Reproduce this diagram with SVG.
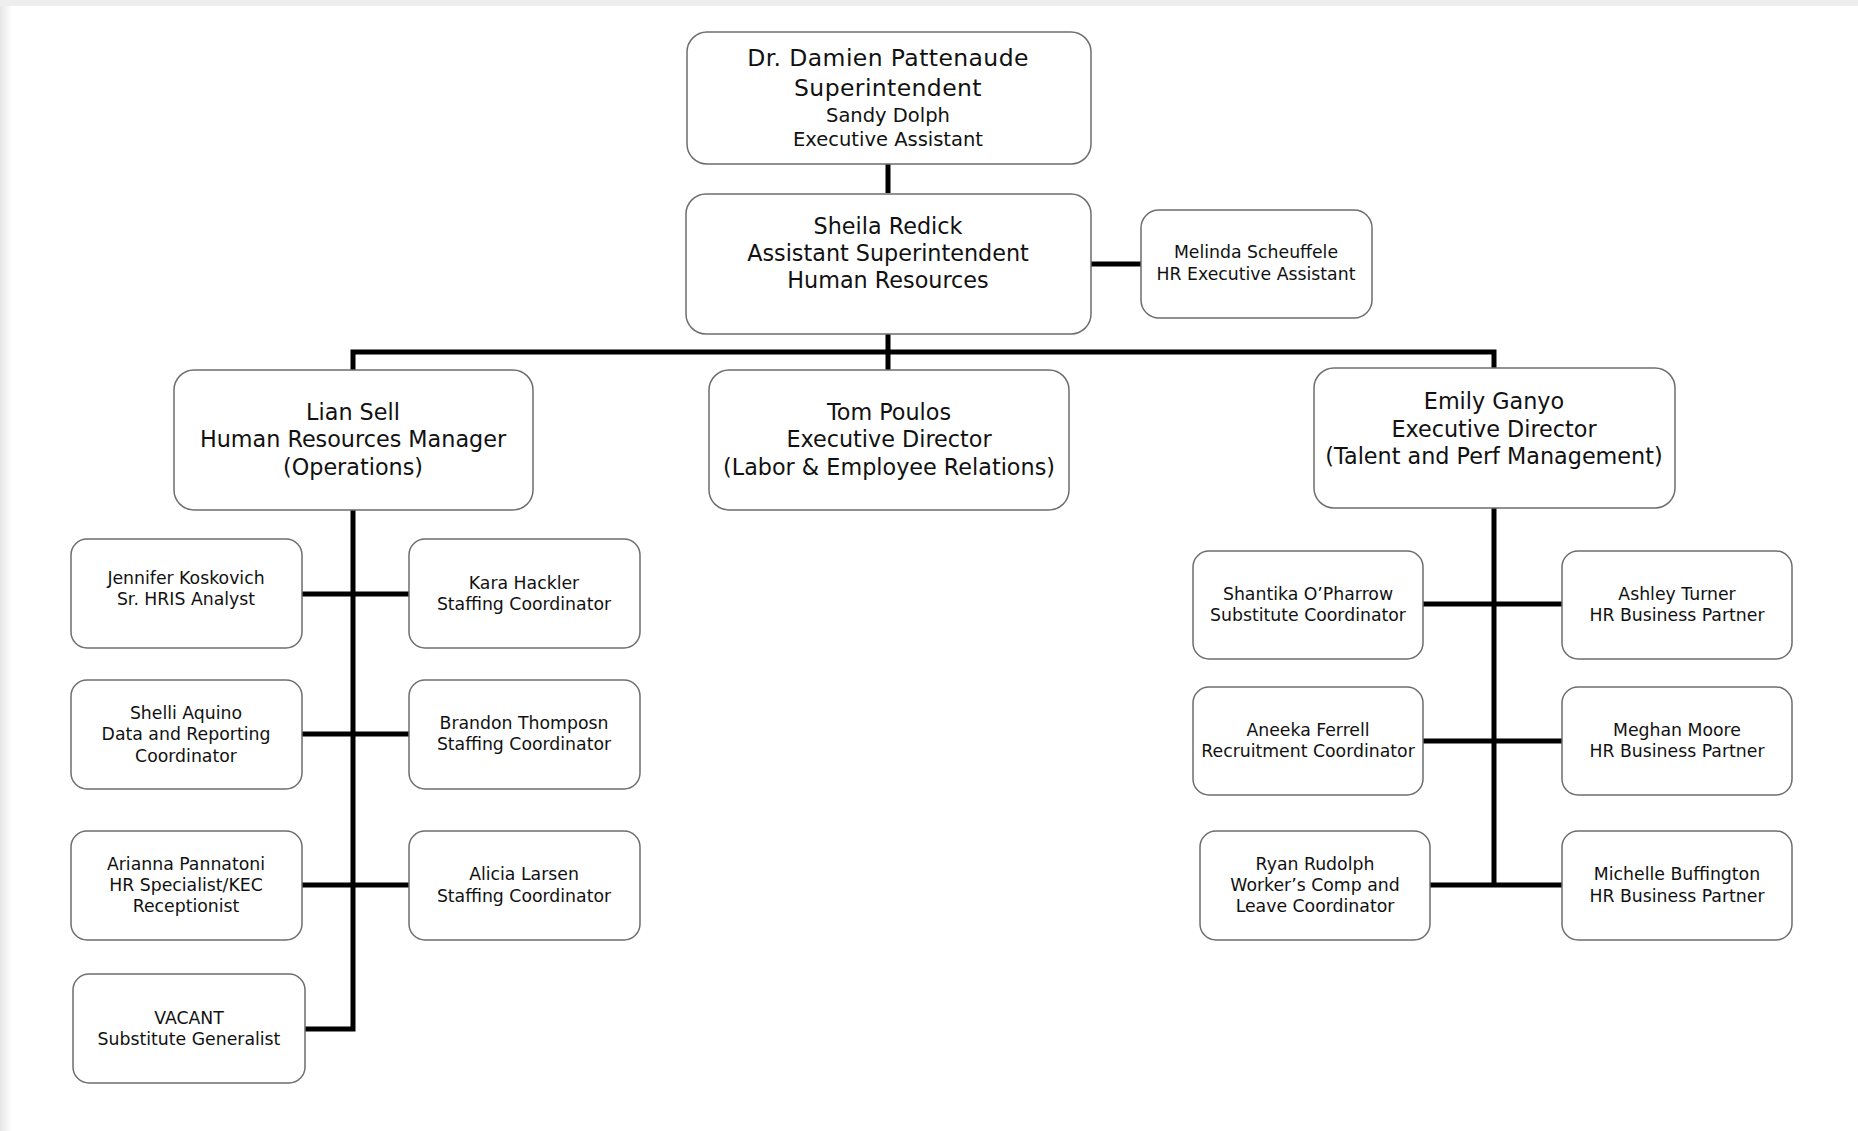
<svg xmlns="http://www.w3.org/2000/svg" width="1858" height="1131" viewBox="0 0 1858 1131">
<defs>
<linearGradient id="lg" x1="0" y1="0" x2="1" y2="0">
<stop offset="0" stop-color="#e6e6e6"/>
<stop offset="1" stop-color="#ffffff"/>
</linearGradient>
<style>
.box{fill:#ffffff;stroke:#6e6e6e;stroke-width:1.5}
.t{font-family:"DejaVu Sans","Verdana",sans-serif;fill:#111111;text-anchor:middle}
.top{font-size:23.5px;letter-spacing:0.4px}
.topsm{font-size:19.5px}
.big{font-size:22.3px}
.sm{font-size:17.3px}
.c{fill:none;stroke:#000000;stroke-width:5;stroke-linejoin:miter;stroke-linecap:butt}
</style>
</defs>
<rect x="0" y="0" width="1858" height="1131" fill="#ffffff"/>
<rect x="0" y="0" width="12" height="1131" fill="url(#lg)"/>
<rect x="0" y="0" width="1858" height="6" fill="#eeeeee"/>
<g id="connectors">
<path class="c" d="M888 164 V193"/>
<path class="c" d="M1091 264 H1141"/>
<path class="c" d="M888 334 V352 M353 370 V352 H1494 V368 M888 352 V370"/>
<path class="c" d="M353 510 V1029 H305"/>
<path class="c" d="M302 594 H409 M302 734 H409 M302 885 H409"/>
<path class="c" d="M1494 508 V885"/>
<path class="c" d="M1423 604 H1562 M1423 741 H1562 M1430 885 H1562"/>
</g>
<g id="superintendent">
<rect class="box" x="687" y="32" width="404" height="132" rx="20"/>
<text class="t top" x="888" y="66">Dr. Damien Pattenaude</text>
<text class="t top" x="888" y="96">Superintendent</text>
<text class="t topsm" x="888" y="122">Sandy Dolph</text>
<text class="t topsm" x="888" y="146">Executive Assistant</text>
</g>
<g id="asst-superintendent">
<rect class="box" x="686" y="194" width="405" height="140" rx="20"/>
<text class="t big" x="888" y="233.5">Sheila Redick</text>
<text class="t big" x="888" y="260.5">Assistant Superintendent</text>
<text class="t big" x="888" y="287.5">Human Resources</text>
</g>
<g id="hr-exec-assistant">
<rect class="box" x="1141" y="210" width="231" height="108" rx="18"/>
<text class="t sm" x="1256" y="258">Melinda Scheuffele</text>
<text class="t sm" x="1256" y="280">HR Executive Assistant</text>
</g>
<g id="hr-manager">
<rect class="box" x="174" y="370" width="359" height="140" rx="20"/>
<text class="t big" x="353" y="419.5">Lian Sell</text>
<text class="t big" x="353" y="446.5">Human Resources Manager</text>
<text class="t big" x="353" y="474.5">(Operations)</text>
</g>
<g id="exec-director-labor">
<rect class="box" x="709" y="370" width="360" height="140" rx="20"/>
<text class="t big" x="889" y="419.5">Tom Poulos</text>
<text class="t big" x="889" y="446.5">Executive Director</text>
<text class="t big" x="889" y="474.5">(Labor &amp; Employee Relations)</text>
</g>
<g id="exec-director-talent">
<rect class="box" x="1314" y="368" width="361" height="140" rx="20"/>
<text class="t big" x="1494" y="408.5">Emily Ganyo</text>
<text class="t big" x="1494" y="436.5">Executive Director</text>
<text class="t big" x="1494" y="463.5">(Talent and Perf Management)</text>
</g>
<g id="jennifer">
<rect class="box" x="71" y="539" width="231" height="109" rx="16"/>
<text class="t sm" x="186" y="584">Jennifer Koskovich</text>
<text class="t sm" x="186" y="605">Sr. HRIS Analyst</text>
</g>
<g id="kara">
<rect class="box" x="409" y="539" width="231" height="109" rx="16"/>
<text class="t sm" x="524" y="589">Kara Hackler</text>
<text class="t sm" x="524" y="610">Staffing Coordinator</text>
</g>
<g id="shelli">
<rect class="box" x="71" y="680" width="231" height="109" rx="16"/>
<text class="t sm" x="186" y="719">Shelli Aquino</text>
<text class="t sm" x="186" y="740">Data and Reporting</text>
<text class="t sm" x="186" y="762">Coordinator</text>
</g>
<g id="brandon">
<rect class="box" x="409" y="680" width="231" height="109" rx="16"/>
<text class="t sm" x="524" y="729">Brandon Thomposn</text>
<text class="t sm" x="524" y="750">Staffing Coordinator</text>
</g>
<g id="arianna">
<rect class="box" x="71" y="831" width="231" height="109" rx="16"/>
<text class="t sm" x="186" y="870">Arianna Pannatoni</text>
<text class="t sm" x="186" y="891">HR Specialist/KEC</text>
<text class="t sm" x="186" y="912">Receptionist</text>
</g>
<g id="alicia">
<rect class="box" x="409" y="831" width="231" height="109" rx="16"/>
<text class="t sm" x="524" y="880">Alicia Larsen</text>
<text class="t sm" x="524" y="902">Staffing Coordinator</text>
</g>
<g id="vacant">
<rect class="box" x="73" y="974" width="232" height="109" rx="16"/>
<text class="t sm" x="189" y="1024">VACANT</text>
<text class="t sm" x="189" y="1045">Substitute Generalist</text>
</g>
<g id="shantika">
<rect class="box" x="1193" y="551" width="230" height="108" rx="16"/>
<text class="t sm" x="1308" y="600">Shantika O’Pharrow</text>
<text class="t sm" x="1308" y="621">Substitute Coordinator</text>
</g>
<g id="ashley">
<rect class="box" x="1562" y="551" width="230" height="108" rx="16"/>
<text class="t sm" x="1677" y="600">Ashley Turner</text>
<text class="t sm" x="1677" y="621">HR Business Partner</text>
</g>
<g id="aneeka">
<rect class="box" x="1193" y="687" width="230" height="108" rx="16"/>
<text class="t sm" x="1308" y="736">Aneeka Ferrell</text>
<text class="t sm" x="1308" y="757">Recruitment Coordinator</text>
</g>
<g id="meghan">
<rect class="box" x="1562" y="687" width="230" height="108" rx="16"/>
<text class="t sm" x="1677" y="736">Meghan Moore</text>
<text class="t sm" x="1677" y="757">HR Business Partner</text>
</g>
<g id="ryan">
<rect class="box" x="1200" y="831" width="230" height="109" rx="16"/>
<text class="t sm" x="1315" y="870">Ryan Rudolph</text>
<text class="t sm" x="1315" y="891">Worker’s Comp and</text>
<text class="t sm" x="1315" y="912">Leave Coordinator</text>
</g>
<g id="michelle">
<rect class="box" x="1562" y="831" width="230" height="109" rx="16"/>
<text class="t sm" x="1677" y="880">Michelle Buffington</text>
<text class="t sm" x="1677" y="902">HR Business Partner</text>
</g>
</svg>
